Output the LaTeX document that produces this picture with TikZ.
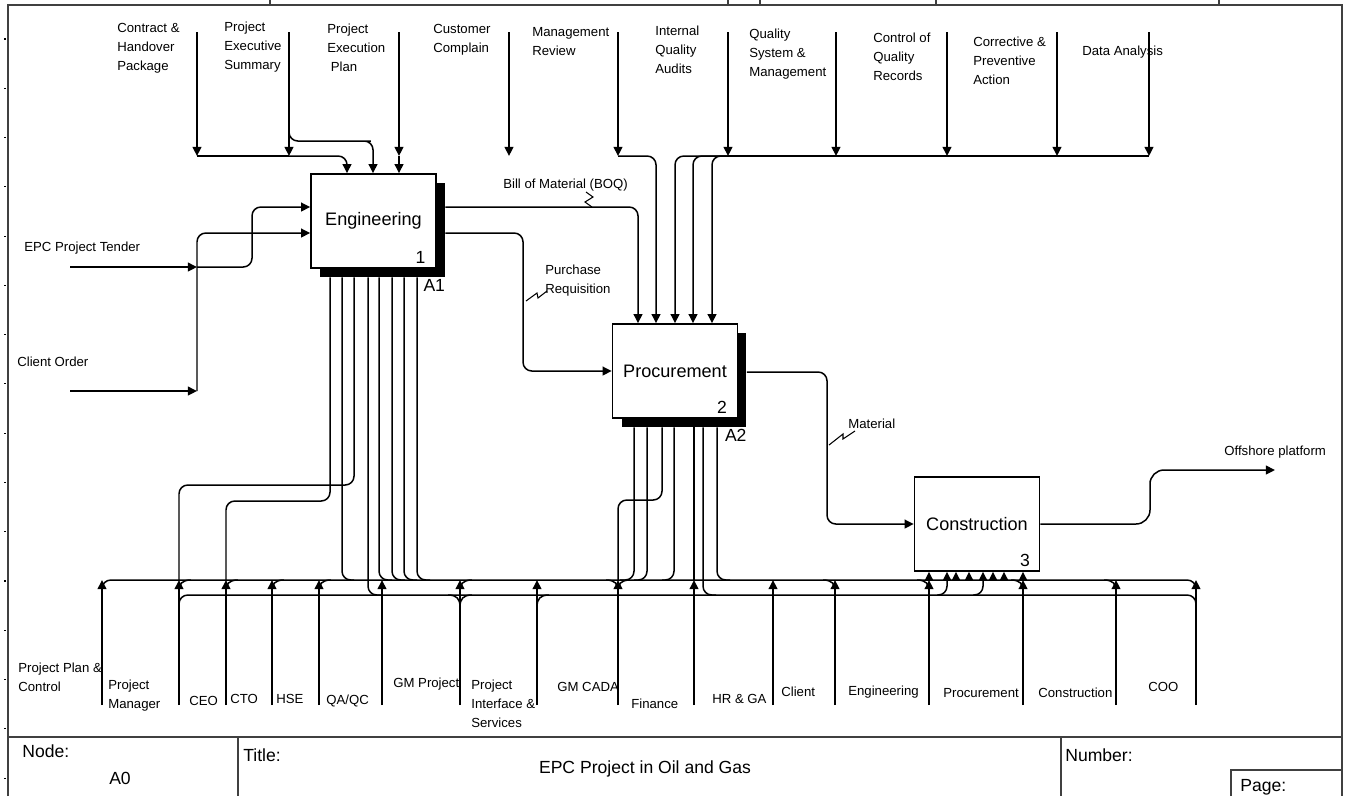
\documentclass[tikz,border=0pt]{standalone}
\usepackage{fontspec}
\setmainfont{Liberation Sans}
\usetikzlibrary{arrows.meta,positioning,calc}
\tikzset{fn/.style={draw=black,line width=0.9pt,fill=white,minimum width=2.5cm,minimum height=1.88cm,inner sep=0pt,font=\fontsize{10.3}{12}\selectfont},
shd/.style={fill=black,minimum width=2.5cm,minimum height=1.88cm,inner sep=0pt},
ln/.style={line width=0.85pt,rounded corners=5pt},
arr/.style={ln,-{Triangle[length=5.2pt,width=5pt]}},
lab/.style={font=\fontsize{7.5}{10.8}\selectfont,align=left,inner sep=0pt,anchor=north west},
num/.style={font=\fontsize{10}{12}\selectfont,inner sep=0pt},
blk/.style={num,anchor=north west},
frm/.style={line width=1pt,draw=black!75},
zz/.style={line width=0.6pt}}

\begin{document}
\begin{tikzpicture}[x=0.02cm,y=-0.02cm]
\useasboundingbox (0,0) rectangle (1345,796);
\draw[frm] (8,796) -- (8,5) -- (1342,5) -- (1342,796);
\draw[frm] (8,737) -- (1342,737);
\draw[frm] (238,737) -- (238,796);
\draw[frm] (1061,737) -- (1061,796);
\draw[frm] (1231,796) |- (1342,770);
\foreach \x in {270,728,760,936,1219} \draw[frm,line width=0.6pt] (\x,0) -- (\x,5);
\foreach \k in {0,...,15} \draw[line width=0.6pt] (4,39+49.27*\k) -- (6,39+49.27*\k);
\node[blk] (nd) at (22,744) {Node:};
\node[num] (nda) at (120,778) {A0};
\node[blk] (ttl) at (243,748) {Title:};
\node[num] (ttxt) at (645,769) {EPC Project in Oil and Gas};
\node[blk] (nbr) at (1065,748) {Number:};
\node[blk] (pg) at (1240,779) {Page:};

\node[shd] (engsh) at (382.5,230) {};
\node[fn] (eng) at (373.5,221) {Engineering};
\node[num,anchor=south east] (engn) at ($(eng.south east)+(-11,-5)$) {1};
\node[num,anchor=north east] (enga) at ($(engsh.south east)+(0,2)$) {A1};
\node[shd] (procsh) at (684,380) {};
\node[fn] (proc) at (675,371) {Procurement};
\node[num,anchor=south east] (procn) at ($(proc.south east)+(-11,-5)$) {2};
\node[num,anchor=north east] (proca) at ($(procsh.south east)+(0,2)$) {A2};
\node[fn] (cons) at (977,524) {Construction};
\node[num,anchor=south east] (consn) at ($(cons.south east)+(-10,-5)$) {3};

\foreach \lx/\ly/\ax/\txt [count=\i] in {
 117/23/197/{Contract \&\\Handover\\Package},
 224/22/289/{Project\\Executive\\Summary},
 327/24/399/{Project\\Execution\\\hspace*{2pt}Plan},
 433/24/509/{Customer\\Complain},
 532/27/618/{Management\\Review},
 655/26/728/{Internal\\Quality\\Audits},
 749/29/836/{Quality\\System \&\\Management},
 873/33/947/{Control of\\Quality\\Records},
 973/37/1057/{Corrective \&\\Preventive\\Action},
 1082/46/1149/{Data Analysis}}{
 \node[lab] (ctl\i) at (\lx,\ly) {\txt};
 \coordinate (ct\i) at (\ax,32);
 \coordinate (cb\i) at (\ax,156);
 \draw[arr] (ct\i) -- (cb\i);
}
\draw[ln] (cb1) -- (cb2);
\draw[arr] (cb2) -| (347,0 |- eng.north);
\draw[arr] ($(ct2)+(0,90)$) |- (362,141) -| (373,0 |- eng.north);
\draw[arr] (cb3) -- (cb3 |- eng.north);
\draw[arr] (cb5) -| (656,0 |- proc.north);
\draw[ln] (cb6) -- (cb10);
\foreach \x in {675,693,712} \draw[arr] (735,156) -| (\x,0 |- proc.north);

\coordinate (in1) at (70,267);
\coordinate (in2) at (70,391);
\coordinate (j1) at (197,267);
\coordinate (j2) at (197,391);
\node[lab] (tend) at (24,242) {EPC Project Tender};
\node[lab] (cord) at (17,357) {Client Order};
\draw[arr] (in1) -- (j1);
\draw[arr] (in2) -- (j2);
\draw[arr] (j1) -| (252,230) |- (eng.west |- 0,207);
\draw[arr] (j2) |- (eng.west |- 0,233);

\draw[arr] (engsh.east |- 0,207) -| (638,0 |- proc.north);
\node[lab] (boq) at (503,179) {Bill of Material (BOQ)};
\draw[zz] (586,192) -- (593,197) -- (585,202) -- (592,207);
\draw[arr] (engsh.east |- 0,233) -| (523,300) |- (proc.west);
\node[lab] (preq) at (545,265) {Purchase\\Requisition};
\draw[zz] (547,291) -- (538,298) -- (537,293) -- (526,301);
\draw[arr] (procsh.east |- 0,372) -| (827,450) |- (cons.west);
\node[lab] (mat) at (848,419) {Material};
\draw[zz] (855,431) -- (843,439) -- (843,434) -- (829,445);
\coordinate (outp) at (1275,470);
\draw[arr,rounded corners=8pt] (cons.east) -| (1150,495) |- (outp);
\node[lab] (offs) at (1224,446) {Offshore platform};

\foreach \ax/\lx/\ly/\txt [count=\i] in {
 102/18/663/{Project Plan \&\\Control},
 179/108/680/{Project\\Manager},
 226/189/696/{CEO},
 272/230/694/{CTO},
 319/276/694/{HSE},
 382/326/695/{QA/QC},
 460/393/678/{GM Project},
 537/471/680/{Project\\Interface \&\\Services},
 618/557/682/{GM CADA},
 694/631/699/{Finance},
 773/712/694/{HR \& GA},
 835/781/687/{Client},
 929/848/686/{Engineering},
 1023/943/688/{Procurement},
 1116/1038/688/{Construction},
 1196/1148/682/{COO}}{
 \node[lab] (mech\i) at (\lx,\ly) {\txt};
 \coordinate (mb\i) at (\ax,705);
 \coordinate (mt\i) at (\ax,580);
 \draw[arr] (mb\i) -- (mt\i);
}
\draw[ln] ($(mt1)+(0,18)$) |- (mt16) -- ($(mt16)+(0,20)$);
\draw[ln] (179,612) |- (1196,595) -- (1196,615);
\foreach \x in {179,226,272,319,460,618} \draw[ln] (\x,591) .. controls (\x,584) and (\x+3,580) .. (\x+12,580);
\foreach \x in {618,835,929,1023,1116} \draw[ln] (\x,591) .. controls (\x,584) and (\x-3,580) .. (\x-12,580);
\draw[ln] (460,607) .. controls (460,599) and (463,595) .. (472,595);
\draw[ln] (460,607) .. controls (460,599) and (457,595) .. (448,595);
\draw[ln] (537,607) .. controls (537,599) and (540,595) .. (549,595);

\draw[ln] (330,0 |- engsh.south) |- (mt3 |- 0,501) -- (mt3);
\draw[ln] (354,0 |- engsh.south) |- (mt2 |- 0,485) -- (mt2);
\foreach \x/\e in {342/354,379/392,392/405,404/417,417/430} \draw[ln] (\x,0 |- engsh.south) |- (\e,580);
\draw[ln] (368,0 |- engsh.south) |- (381,595);

\draw[ln] (662,0 |- procsh.south) |- (mt9 |- 0,500) -- (mt9);
\foreach \x/\e in {634/620,647/634,674/662,717/730} \draw[ln] (\x,0 |- procsh.south) |- (\e,580);
\draw[ln] (694,0 |- procsh.south) -- (mt10);
\draw[ln] (703,0 |- procsh.south) |- (716,595);

\draw[arr] (mt13) -- (mt13 |- cons.south);
\draw[arr] (mt14) -- (mt14 |- cons.south);
\foreach \x in {956,969,993,1004} \draw[arr] (\x,580) -- (\x,0 |- cons.south);
\draw[arr] (937,595) -| (947,0 |- cons.south);
\draw[arr] (973,595) -| (983,0 |- cons.south);
\end{tikzpicture}
\end{document}
